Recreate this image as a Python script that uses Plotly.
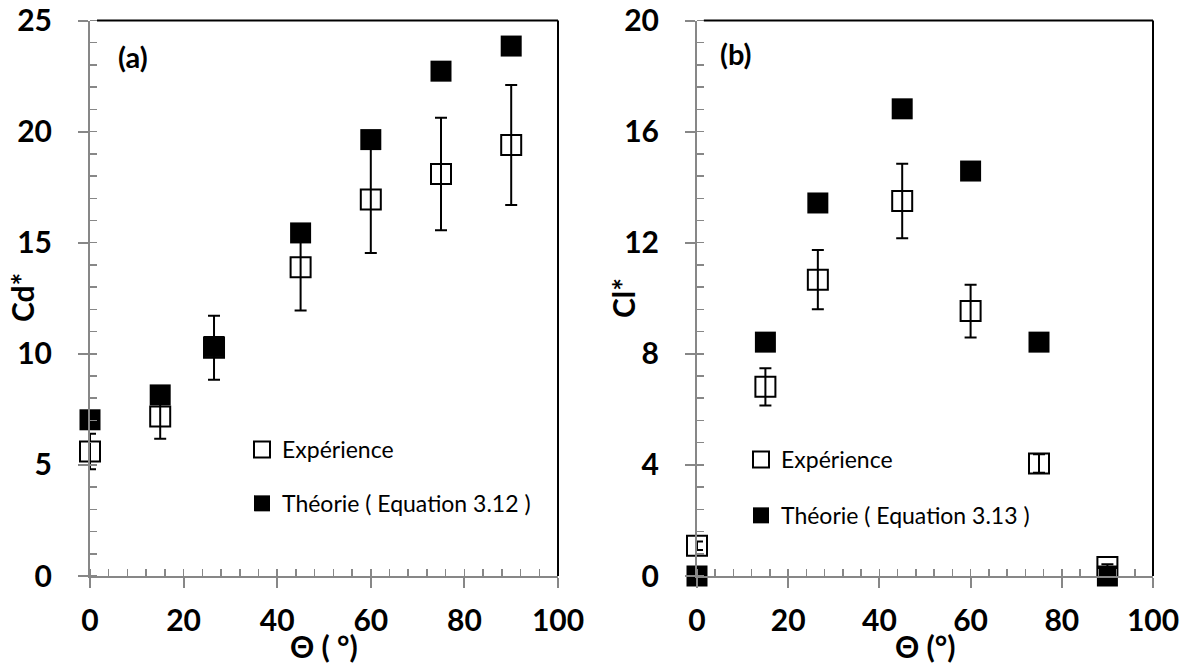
import plotly.graph_objects as go

# ---- data ----
theta_a = [0, 15, 26.5, 45, 60, 75, 90]
exp_a = [5.6, 7.18, 10.27, 13.89, 16.94, 18.09, 19.4]
exp_a_err = [0.8, 1.0, 1.44, 1.94, 2.4, 2.53, 2.7]
theo_a = [7.03, 8.15, 10.33, 15.44, 19.64, 22.72, 23.85]

theta_b = [0, 15, 26.5, 45, 60, 75, 90]
exp_b = [1.09, 6.81, 10.67, 13.5, 9.54, 4.05, 0.32]
exp_b_err = [0.15, 0.67, 1.07, 1.34, 0.95, 0.33, 0.1]
theo_b = [0.0, 8.42, 13.43, 16.82, 14.58, 8.42, 0.0]

x_ticks = [0, 20, 40, 60, 80, 100]
ya_ticks = [0, 5, 10, 15, 20, 25]
yb_ticks = [0, 4, 8, 12, 16, 20]

FONT = "Lato"
GRAY = "#878787"

fig = go.Figure()

def add_panel(xs, ex, err, th, xa, ya, leg, eqlabel):
    fig.add_trace(go.Scatter(
        x=xs, y=ex, mode="markers", name="Expérience",
        xaxis=xa, yaxis=ya, legend=leg, legendgroup=leg + "e",
        cliponaxis=False,
        marker=dict(symbol="square-open", size=20, color="black",
                    line=dict(color="black", width=2)),
        error_y=dict(type="data", array=err, visible=True, color="black",
                     thickness=2, width=6),
    ))
    fig.add_trace(go.Scatter(
        x=xs, y=th, mode="markers", name=eqlabel,
        xaxis=xa, yaxis=ya, legend=leg, legendgroup=leg + "t",
        cliponaxis=False,
        marker=dict(symbol="square", size=21, color="black",
                    line=dict(color="black", width=0)),
    ))

add_panel(theta_a, exp_a, exp_a_err, theo_a, "x", "y", "legend",
          "Théorie ( Equation 3.12 )")
add_panel(theta_b, exp_b, exp_b_err, theo_b, "x2", "y2", "legend2",
          "Théorie ( Equation 3.13 )")

tickfont = dict(family=FONT, size=30, color="black", weight="bold")

def xaxis_cfg(domain, anchor):
    return dict(
        domain=domain, anchor=anchor, range=[0, 100],
        tickvals=x_ticks, showline=True, linecolor=GRAY, linewidth=2,
        ticks="outside", ticklen=10, tickwidth=2, tickcolor=GRAY,
        minor=dict(dtick=4, ticks="inside", ticklen=7, tickwidth=1.5,
                   tickcolor=GRAY, showgrid=False),
        showgrid=False, zeroline=False, tickfont=tickfont,
        ticklabelstandoff=7, automargin=False, fixedrange=True,
    )

def yaxis_cfg(domain, anchor, rng, ticks, minor_dt):
    return dict(
        domain=domain, anchor=anchor, range=rng,
        tickvals=ticks, showline=True, linecolor=GRAY, linewidth=2,
        ticks="outside", ticklen=10, tickwidth=2, tickcolor=GRAY,
        minor=dict(dtick=minor_dt, ticks="inside", ticklen=7, tickwidth=1.5,
                   tickcolor=GRAY, showgrid=False),
        showgrid=False, zeroline=False, tickfont=tickfont,
        ticklabelstandoff=20, automargin=False, fixedrange=True,
    )

W, H = 1187, 668
xa_dom = [90 / W, 558 / W]
xb_dom = [697 / W, 1153 / W]
y_dom = [(H - 576) / H, (H - 20.5) / H]

legfont = dict(family=FONT, size=23, color="black")
titlefont = dict(family=FONT, size=30, color="black", weight="bold")

fig.update_layout(
    width=W, height=H,
    margin=dict(l=0, r=0, t=0, b=0),
    paper_bgcolor="white", plot_bgcolor="white",
    showlegend=True,
    xaxis=xaxis_cfg(xa_dom, "y"),
    yaxis=yaxis_cfg(y_dom, "x", [0, 25], ya_ticks, 1),
    xaxis2=xaxis_cfg(xb_dom, "y2"),
    yaxis2=yaxis_cfg(y_dom, "x2", [0, 20], yb_ticks, 0.8),
    legend=dict(x=242 / W, y=(H - 428) / H, xanchor="left", yanchor="top",
                bgcolor="rgba(0,0,0,0)", font=legfont, tracegroupgap=21,
                traceorder="grouped", itemclick=False),
    legend2=dict(x=741 / W, y=(H - 438) / H, xanchor="left", yanchor="top",
                 bgcolor="rgba(0,0,0,0)", font=legfont, tracegroupgap=23,
                 traceorder="grouped", itemclick=False),
    shapes=[
        # black top and right frame lines
        dict(type="line", xref="x domain", yref="y domain", x0=0.015, x1=1,
             y0=1, y1=1, line=dict(color="black", width=2)),
        dict(type="line", xref="x domain", yref="y domain", x0=1, x1=1,
             y0=0, y1=1, line=dict(color="black", width=2)),
        dict(type="line", xref="x2 domain", yref="y2 domain", x0=0.015, x1=1,
             y0=1, y1=1, line=dict(color="black", width=2)),
        dict(type="line", xref="x2 domain", yref="y2 domain", x0=1, x1=1,
             y0=0, y1=1, line=dict(color="black", width=2)),
    ],
    annotations=[
        dict(text="Θ ( °)", xref="paper", yref="paper", x=324 / W,
             y=(H - 646) / H, showarrow=False, xanchor="center",
             yanchor="middle", font=titlefont),
        dict(text="Θ (°)", xref="paper", yref="paper", x=925 / W,
             y=(H - 646) / H, showarrow=False, xanchor="center",
             yanchor="middle", font=titlefont),
        dict(text="Cd*", xref="paper", yref="paper", x=22 / W,
             y=(H - 298) / H, showarrow=False, textangle=-90,
             xanchor="center", yanchor="middle", font=titlefont),
        dict(text="Cl*", xref="paper", yref="paper", x=623 / W,
             y=(H - 298) / H, showarrow=False, textangle=-90,
             xanchor="center", yanchor="middle", font=titlefont),
        dict(text="(a)", xref="paper", yref="paper", x=133 / W,
             y=(H - 57) / H, showarrow=False, xanchor="center",
             yanchor="middle",
             font=dict(family=FONT, size=29, color="black", weight="bold")),
        dict(text="(b)", xref="paper", yref="paper", x=736 / W,
             y=(H - 53) / H, showarrow=False, xanchor="center",
             yanchor="middle",
             font=dict(family=FONT, size=29, color="black", weight="bold")),
    ],
)

fig.write_html(
    "out.html",
    config={"displayModeBar": False, "staticPlot": True},
    post_script="document.body.style.margin='0';"
                "document.body.style.overflow='hidden';",
)
